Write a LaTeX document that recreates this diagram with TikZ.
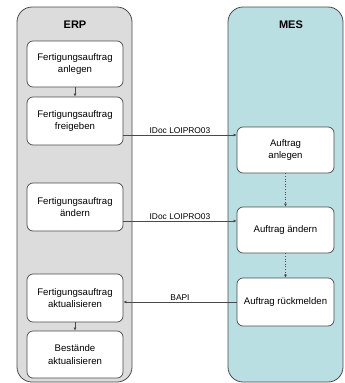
\documentclass[tikz,border=0pt]{standalone}
\usepackage{fontspec}
\setmainfont{Liberation Sans}
\usetikzlibrary{arrows.meta,calc}
\definecolor{lanegray}{HTML}{DCDCDC}
\definecolor{lanecyan}{HTML}{BADFE3}
\definecolor{edge}{HTML}{4A4A4A}
\tikzset{
  lane/.style={draw=edge, line width=0.8pt, rounded corners=15pt},
  proc/.style={draw=edge, line width=0.7pt, fill=white, rounded corners=6pt, align=center,
    font=\fontsize{9.6}{12.5}\selectfont, inner sep=1pt},
  erpbox/.style={proc, minimum width=96pt},
  mesbox/.style={proc, minimum width=97pt},
  lanetitle/.style={font=\fontsize{11}{13}\selectfont\bfseries},
  flow/.style={draw=edge, line width=0.6pt, -{Latex[length=3pt,width=3pt]}},
  dotflow/.style={flow, dotted},
  lbl/.style={font=\fontsize{8.4}{10}\selectfont, inner sep=1pt, anchor=south}
}
\begin{document}
\begin{tikzpicture}[x=1pt,y=-1pt]
\useasboundingbox (0,0) rectangle (345,383);
% lanes
\path[lane, fill=lanegray] (17,7) rectangle (132,382);
\path[lane, fill=lanecyan] (228,7) rectangle (343,382);
\node[lanetitle] (erpT) at (75,25) {ERP};
\node[lanetitle] (mesT) at (291,25) {MES};
% ERP boxes
\node[erpbox, minimum height=46pt] (b1) at (75,64) {Fertigungsauftrag\\anlegen};
\node[erpbox, minimum height=48pt] (b2) at (75,121) {Fertigungsauftrag\\freigeben};
\node[erpbox, minimum height=48pt] (b3) at (75,207) {Fertigungsauftrag\\ändern};
\node[erpbox, minimum height=48pt] (b4) at (75,298) {Fertigungsauftrag\\aktualisieren};
\node[erpbox, minimum height=47pt] (b5) at (75,354.5) {Bestände\\aktualisieren};
% MES boxes
\node[mesbox, minimum height=46pt] (m1) at (285.5,150) {Auftrag\\anlegen};
\node[mesbox, minimum height=46pt] (m2) at (285.5,230) {Auftrag ändern};
\node[mesbox, minimum height=48pt] (m3) at (285.5,302) {Auftrag rückmelden};
% ERP internal arrows
\draw[flow] (b1) -- (b2);
\draw[flow] (b4) -- (b5);
% MES internal dotted arrows
\draw[dotflow] (m1) -- (m2);
\draw[dotflow] (m2) -- (m3);
% cross-lane
\coordinate (s1) at ([yshift=-14pt]b2.east);
\draw[flow] (s1) -- (s1 -| m1.west) node[lbl, pos=0.5] {IDoc LOIPRO03};
\coordinate (s2) at ([yshift=-14pt]b3.east);
\draw[flow] (s2) -- (s2 -| m2.west) node[lbl, pos=0.5] {IDoc LOIPRO03};
\draw[flow] (m3.west) -- (m3.west -| b4.east) node[lbl, pos=0.5] {BAPI};
\end{tikzpicture}
\end{document}
